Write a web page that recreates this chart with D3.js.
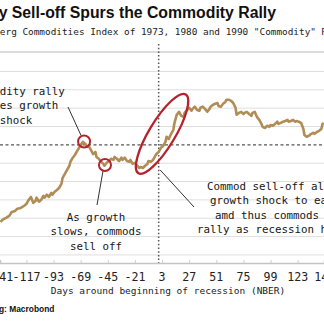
<!DOCTYPE html>
<html lang="en">
<head>
  <meta charset="UTF-8" />
  <title>Sell-off Spurs the Commodity Rally</title>
  <script src="https://d3js.org/d3.v7.min.js"></script>
  <style>
    html, body { margin: 0; background: #fff; overflow: hidden; }
    svg { display: block; }
    .mono { font-family: "DejaVu Sans Mono", monospace; }
    .grid line { stroke: #dedede; stroke-width: 1; }
    .note { font-size: 10.8px; fill: #161616; }
    .leader { stroke: #333; stroke-width: 1; }
    .ring { fill: none; stroke: #b5222d; stroke-width: 2; }
  </style>
</head>
<body>
  <svg id="chart" width="324" height="326"></svg>

  <script>
    // days around the start of a recession (NBER) and the averaged index
    const days = [-140,-138,-135,-132,-130,-127,-125,-122,-119,-117,
      -115,-113,-111,-109,-108,-106,-104,-102,-101,-99,
      -97,-95,-94,-92,-90,-88,-86,-85,-83,-81,
      -79,-78,-76,-74,-72,-71,-69,-67,-65,-63,
      -62,-60,-58,-56,-55,-53,-51,-49,-48,-46,
      -44,-42,-40,-39,-37,-35,-33,-32,-30,-28,
      -26,-25,-23,-21,-19,-17,-16,-14,-12,-10,
      -9,-7,-5,-3,-2,0,2,4,6,7,
      9,11,13,14,16,18,20,22,23,25,
      27,29,30,32,34,36,37,39,41,43,
      45,46,48,50,52,53,55,57,59,60,
      62,64,66,68,69,71,73,75,76,78,
      80,82,83,85,87,89,91,92,94,96,
      98,99,101,103,105,106,108,110,112,114,
      115,117,119,121,122,124,126,128,129,131,
      133,135,137,138,140,142,144,145,146];
    const index = [79.0,79.6,80.1,80.7,81.7,82.0,82.6,82.8,83.4,83.9,
      85.0,85.8,84.2,84.7,85.6,84.5,85.0,86.1,85.6,86.4,
      85.8,86.9,86.4,87.2,87.7,88.3,89.4,91.0,92.1,93.2,
      94.3,95.4,96.5,97.3,98.4,98.9,100.0,100.8,100.3,99.5,
      99.7,98.6,97.5,98.1,96.7,96.2,95.4,94.8,94.3,95.1,
      95.6,96.2,95.9,96.7,96.2,95.6,96.5,95.9,96.5,95.6,
      95.4,95.9,94.8,95.1,94.3,93.7,94.0,93.7,94.3,94.8,
      95.6,95.4,95.9,97.0,97.5,98.1,99.2,99.7,100.8,102.2,
      101.6,103.0,104.1,106.0,108.2,109.0,107.9,107.6,108.7,109.5,
      110.1,109.3,109.8,110.4,109.5,109.3,110.1,110.4,109.8,109.0,
      109.8,110.4,110.9,111.2,111.4,110.6,110.4,111.2,111.7,112.3,
      112.3,112.0,111.4,110.1,108.2,108.7,109.0,108.4,108.7,109.0,
      108.4,107.9,108.7,109.0,107.6,106.8,105.7,104.9,104.6,105.2,
      104.9,105.4,105.2,105.7,106.3,105.7,106.0,106.3,106.5,106.8,
      106.3,106.5,106.8,106.3,106.5,106.3,106.0,104.4,102.7,102.2,
      102.5,103.0,103.3,103.0,103.5,103.8,104.4,105.7,106.0];

    const xTicks = [-141,-117,-93,-69,-45,-21,3,27,51,75,99,123,147];
    const gridValues = [70,75,80,85,90,95,105,110,115,120];
    const refValue = 100;   // dashed level
    const recessionDay = 0; // dotted vertical

    // highlighted spots on the line
    const rings = [{day: -66, value: 100.9}, {day: -47.5, value: 94.5}];
    const oval = {day: 3, value: 103};

    const svg = d3.select('#chart');
    const W = 324;

    const x = d3.scaleLinear().domain([-140.4, 146.3]).range([0, W]);
    const y = d3.scaleLinear().domain([67.8, 125.3]).range([263, 52]);

    // title + subtitle (left part cropped in the original)
    svg.append('text')
      .attr('x', 276).attr('y', 18)
      .attr('text-anchor', 'end')
      .style('font-family', '"Liberation Sans", Arial, sans-serif')
      .style('font-weight', 'bold')
      .style('font-size', '15.8px')
      .attr('fill', '#111')
      .text('y Sell-off Spurs the Commodity Rally');

    svg.append('text')
      .attr('class', 'mono')
      .attr('x', -34).attr('y', 35)
      .style('font-size', '9.4px')
      .attr('fill', '#222')
      .text('Bloomberg Commodities Index of 1973, 1980 and 1990 "Commodity" Recessions');

    // grid
    svg.append('g').attr('class', 'grid')
      .selectAll('line').data(gridValues).join('line')
        .attr('x1', 0).attr('x2', W)
        .attr('y1', d => y(d)).attr('y2', d => y(d));

    // top border
    svg.append('line')
      .attr('x1', 0).attr('x2', W).attr('y1', 52).attr('y2', 52)
      .attr('stroke', '#cfcfcf').attr('stroke-width', 1.6);

    // x axis
    const xAxis = d3.axisTop(x).tickValues(xTicks).tickSize(3).tickFormat('');
    const ax = svg.append('g').attr('transform', 'translate(0,263)').call(xAxis);
    ax.select('.domain').attr('stroke', '#c4c4c4').attr('stroke-width', 1.5);
    ax.selectAll('.tick line').attr('stroke', '#d0d0d0');

    svg.append('g').selectAll('text').data(xTicks).join('text')
      .attr('class', 'mono')
      .attr('x', d => x(d)).attr('y', 281)
      .attr('text-anchor', 'middle')
      .style('font-size', '11.6px')
      .attr('fill', '#222')
      .text(d => d);

    svg.append('text')
      .attr('class', 'mono')
      .attr('x', 168).attr('y', 294)
      .attr('text-anchor', 'middle')
      .style('font-size', '9.5px')
      .attr('fill', '#222')
      .text('Days around beginning of recession (NBER)');

    svg.append('text')
      .attr('x', -1).attr('y', 312)
      .style('font-family', '"Liberation Sans", Arial, sans-serif')
      .style('font-weight', 'bold')
      .style('font-size', '8.4px')
      .attr('fill', '#111')
      .text('g: Macrobond');

    // reference lines
    svg.append('line')
      .attr('x1', 0).attr('x2', W)
      .attr('y1', y(refValue)).attr('y2', y(refValue))
      .attr('stroke', '#555').attr('stroke-width', 1.2)
      .attr('stroke-dasharray', '3,2.5');

    svg.append('line')
      .attr('x1', x(recessionDay)).attr('x2', x(recessionDay))
      .attr('y1', 44).attr('y2', 263)
      .attr('stroke', '#555').attr('stroke-width', 1.5)
      .attr('stroke-dasharray', '1.5,2.2');

    // the index line
    const pts = days.map((d, i) => [d, index[i]]);
    svg.append('path')
      .datum(pts)
      .attr('fill', 'none')
      .attr('stroke', '#b08d56')
      .attr('stroke-width', 2.6)
      .attr('stroke-linejoin', 'round')
      .attr('d', d3.line().x(d => x(d[0])).y(d => y(d[1])));

    // leader lines
    const leaders = [
      [x(rings[0].day) - 3, y(rings[0].value) - 6, 68, 107],
      [x(rings[1].day) - 2, y(rings[1].value) + 6, 97, 205],
      [x(oval.day) - 2, y(oval.value) + 36, 194, 207]
    ];
    svg.append('g').selectAll('line').data(leaders).join('line')
      .attr('class', 'leader')
      .attr('x1', d => d[0]).attr('y1', d => d[1])
      .attr('x2', d => d[2]).attr('y2', d => d[3]);

    // red markers
    svg.append('g').selectAll('circle').data(rings).join('circle')
      .attr('class', 'ring')
      .attr('cx', d => x(d.day)).attr('cy', d => y(d.value))
      .attr('r', 6);

    svg.append('ellipse')
      .attr('class', 'ring')
      .style('stroke-width', 2.3)
      .attr('rx', 46).attr('ry', 13)
      .attr('transform', `translate(${x(oval.day)},${y(oval.value)}) rotate(-59)`);

    // notes
    const notes = [
      {anchor: 'middle', x: 16, y: 95, lines: ['Commodity rally', 'causes growth', 'shock']},
      {anchor: 'middle', x: 96, y: 221, lines: ['As growth', 'slows, commods', 'sell off']},
      {anchor: 'start', xs: [207, 210, 215, 197], y: 190,
        lines: ['Commod sell-off allows', 'growth shock to ease', 'amd thus commods', 'rally as recession hits']}
    ];
    notes.forEach(n => {
      const t = svg.append('text')
        .attr('class', 'mono note')
        .attr('text-anchor', n.anchor);
      n.lines.forEach((s, i) => {
        t.append('tspan')
          .attr('x', n.xs ? n.xs[i] : n.x)
          .attr('y', n.y + i * 14.4)
          .text(s);
      });
    });
  </script>
</body>
</html>
